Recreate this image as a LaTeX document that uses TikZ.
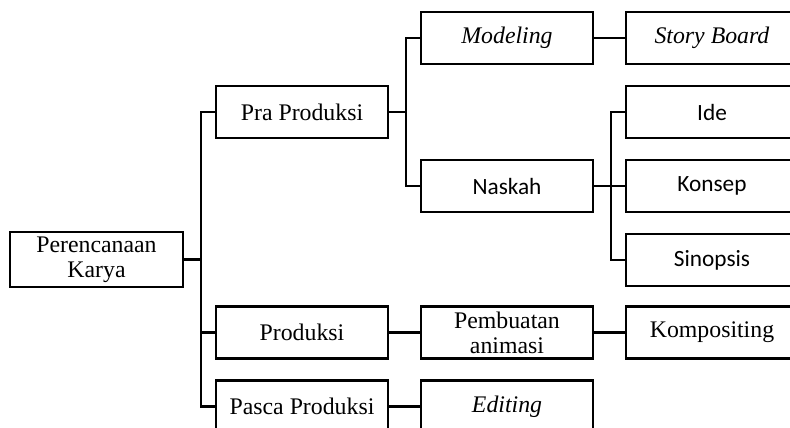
\documentclass[tikz,border=0pt]{standalone}
\usepackage{fontspec}
\setmainfont{Liberation Serif}
\newfontfamily\calfont{Carlito}
\usetikzlibrary{positioning}

\tikzset{
  box/.style={draw, rectangle, line width=2.8pt, minimum width=172pt,
    minimum height=52pt, inner sep=0pt, align=center,
    font=\fontsize{23.8}{25}\selectfont},
  sbox/.style={box, font=\calfont\fontsize{23.3}{25}\selectfont},
  link/.style={line width=2.4pt},
  elbow/.style={to path={(\tikztostart.east) -- ++(16.5pt,0) |- (\tikztotarget.west)}}
}

\begin{document}
\begin{tikzpicture}[node distance=74pt and 205pt, on grid, auto]
\useasboundingbox (0pt,0pt) rectangle (790pt,-428pt);
\node[box, minimum width=173pt, minimum height=55pt] (P) at (96.5pt,-259.5pt) {Perencanaan\\Karya};
\node[box] (pra) [above right=147.5pt and 205.5pt of P] {Pra Produksi};
\node[box] (prod) [below right=73pt and 205.5pt of P] {Produksi};
\node[box] (pasca) [below right=147pt and 205.5pt of P] {Pasca Produksi};
\node[box] (model) [above right=of pra] {\textit{Modeling}};
\node[sbox] (naskah) [below right=of pra] {Naskah};
\node[box] (story) [right=of model] {\textit{Story Board}};
\node[sbox] (ide) [above right=of naskah] {Ide};
\node[sbox] (konsep) [right=of naskah] {Konsep};
\node[sbox] (sinop) [below right=of naskah] {Sinopsis};
\node[box] (buat) [right=of prod] {Pembuatan\\animasi};
\node[box] (kompo) [right=of buat] {Kompositing};
\node[box] (edit) [right=of pasca] {\textit{Editing}};
\path[link] (P) edge[elbow] (pra) edge[elbow] (prod) edge[elbow] (pasca);
\path[link] (pra) edge[elbow] (model) edge[elbow] (naskah);
\path[link] (naskah) edge[elbow] (ide) edge[elbow] (konsep) edge[elbow] (sinop);
\path[link] (model) edge (story);
\path[link] (prod) edge (buat);
\path[link] (buat) edge (kompo);
\path[link] (pasca) edge (edit);
\end{tikzpicture}
\end{document}
